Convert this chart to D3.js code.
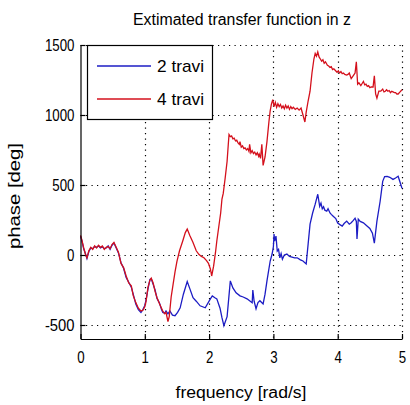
<!DOCTYPE html>
<html>
<head>
<meta charset="utf-8">
<script src="https://cdn.jsdelivr.net/npm/d3@7"></script>
<style>
  body { margin: 0; background: #fff; }
  text { font-family: "Liberation Sans", Arial, sans-serif; fill: #000; }
</style>
</head>
<body>
<div id="chart"></div>
<script>
var seriesNames = ["2 travi", "4 travi"];
var xTicks = [0, 1, 2, 3, 4, 5];
var yTicks = [-500, 0, 500, 1000, 1500];

var freqRed = [0.00,0.02,0.05,0.08,0.10,0.13,0.16,0.19,0.22,0.25,0.28,0.31,0.34,0.37,0.40,0.43,0.46,0.49,0.52,0.55,
  0.59,0.63,0.67,0.71,0.75,0.79,0.82,0.86,0.90,0.94,0.97,1.00,1.02,1.05,1.08,1.10,1.13,1.16,1.19,1.23,
  1.26,1.28,1.31,1.33,1.36,1.38,1.41,1.44,1.47,1.50,1.54,1.59,1.63,1.66,1.70,1.75,1.80,1.84,1.88,1.92,
  1.96,1.99,2.02,2.04,2.07,2.10,2.12,2.15,2.18,2.20,2.22,2.25,2.28,2.30,2.31,2.33,2.35,2.37,2.39,2.41,
  2.43,2.45,2.47,2.48,2.50,2.52,2.54,2.56,2.58,2.60,2.62,2.63,2.65,2.67,2.69,2.71,2.73,2.75,2.77,2.78,
  2.80,2.82,2.84,2.87,2.90,2.93,2.95,2.97,2.99,3.01,3.03,3.05,3.07,3.09,3.11,3.13,3.15,3.17,3.19,3.21,
  3.23,3.25,3.27,3.29,3.31,3.34,3.37,3.40,3.43,3.46,3.49,3.51,3.54,3.57,3.60,3.63,3.65,3.67,3.69,3.71,
  3.73,3.75,3.77,3.79,3.81,3.84,3.86,3.88,3.90,3.92,3.94,3.96,3.99,4.01,4.03,4.05,4.07,4.09,4.11,4.14,
  4.16,4.18,4.21,4.24,4.27,4.29,4.31,4.33,4.36,4.38,4.40,4.42,4.44,4.46,4.48,4.50,4.52,4.55,4.57,4.59,
  4.61,4.64,4.67,4.70,4.72,4.74,4.76,4.78,4.80,4.82,4.84,4.86,4.88,4.90,4.92,4.94,4.97,5.00];
var phaseRed = [140,110,50,0,-20,30,55,40,65,50,70,55,65,40,55,60,45,75,90,60,
  20,-60,-90,-150,-200,-220,-290,-340,-380,-400,-395,-370,-330,-230,-180,-165,-200,-260,-305,-350,
  -380,-400,-420,-410,-475,-440,-300,-210,-120,-45,30,100,160,185,140,90,30,5,-10,-20,
  -40,-60,-100,-150,-80,20,100,200,300,400,440,550,670,800,860,845,850,830,835,815,
  820,800,790,810,770,780,760,765,750,760,740,790,730,745,725,735,715,730,705,720,
  690,790,640,700,810,950,1030,1080,1110,1060,1090,1055,1080,1060,1075,1050,1065,1045,1070,1050,
  1065,1040,1060,1045,1055,1040,1050,1035,1050,1000,950,1020,1100,1170,1300,1400,1440,1420,1450,1415,
  1400,1385,1395,1370,1380,1355,1350,1340,1345,1325,1330,1320,1305,1315,1300,1310,1295,1300,1290,1285,
  1290,1300,1260,1280,1300,1380,1220,1230,1210,1225,1240,1215,1220,1205,1210,1195,1200,1200,1280,1150,
  1120,1170,1170,1185,1165,1170,1180,1170,1175,1160,1170,1165,1160,1160,1150,1150,1165,1180];

var freqBlue = [0.00,0.02,0.05,0.08,0.10,0.13,0.16,0.19,0.22,0.25,0.28,0.31,0.34,0.37,0.40,0.43,0.46,0.49,0.52,0.55,
  0.59,0.63,0.67,0.71,0.75,0.79,0.82,0.86,0.90,0.94,0.97,1.00,1.02,1.05,1.08,1.10,1.13,1.16,1.19,1.23,
  1.26,1.28,1.31,1.33,1.36,1.39,1.43,1.47,1.51,1.55,1.60,1.66,1.70,1.75,1.80,1.86,1.94,2.02,2.05,2.09,
  2.12,2.17,2.20,2.23,2.28,2.33,2.37,2.42,2.48,2.53,2.59,2.64,2.67,2.68,2.70,2.73,2.76,2.79,2.84,2.87,
  2.90,2.95,2.98,3.00,3.01,3.02,3.04,3.06,3.08,3.10,3.12,3.14,3.17,3.21,3.25,3.29,3.33,3.37,3.42,3.46,
  3.51,3.54,3.57,3.61,3.65,3.69,3.72,3.74,3.76,3.78,3.80,3.83,3.85,3.88,3.90,3.93,3.97,4.00,4.04,4.07,
  4.10,4.14,4.18,4.21,4.24,4.27,4.29,4.30,4.32,4.35,4.40,4.46,4.50,4.54,4.57,4.61,4.66,4.70,4.73,4.77,
  4.81,4.86,4.90,4.94,4.97,5.00];
var phaseBlue = [135,105,45,5,-25,25,50,45,60,55,65,50,60,45,50,65,40,70,85,55,
  15,-55,-95,-160,-195,-230,-280,-350,-390,-410,-390,-360,-320,-240,-175,-170,-210,-250,-310,-345,
  -390,-410,-415,-400,-420,-400,-430,-434,-410,-377,-280,-190,-240,-305,-330,-363,-377,-313,-292,-305,
  -313,-380,-448,-505,-440,-185,-235,-270,-292,-300,-313,-330,-341,-250,-330,-384,-340,-327,-350,-280,
  -185,-43,7,60,149,100,135,28,40,-21,10,-30,0,7,-10,-15,-21,-20,-35,-43,
  -64,78,220,300,363,434,348,370,330,345,320,313,330,300,290,277,260,228,215,206,
  225,242,220,230,245,263,240,114,256,240,230,206,190,156,85,242,384,526,560,562,
  555,540,550,562,520,476];

var width = 410, height = 405,
    mLeft = 80.5, mRight = 402, mTop = 45, mBottom = 339;

var svg = d3.select("#chart").append("svg")
  .attr("width", width)
  .attr("height", height);

var x = d3.scaleLinear().domain([0, 5]).range([mLeft, mRight]);
var y = d3.scaleLinear().domain([-600, 1500]).range([mBottom, mTop]);

// dotted grid
svg.append("g").selectAll("line")
  .data(xTicks.filter(function(d){ return d > 0; }))
  .enter().append("line")
  .attr("x1", function(d){ return Math.round(x(d)) + 0.5; })
  .attr("x2", function(d){ return Math.round(x(d)) + 0.5; })
  .attr("y1", mTop).attr("y2", mBottom)
  .attr("stroke", "#000").attr("stroke-width", 1.2)
  .attr("stroke-dasharray", "1.2,4.3");

svg.append("g").selectAll("line")
  .data(yTicks)
  .enter().append("line")
  .attr("x1", mLeft).attr("x2", mRight)
  .attr("y1", function(d){ return Math.round(y(d)) + 0.5; })
  .attr("y2", function(d){ return Math.round(y(d)) + 0.5; })
  .attr("stroke", "#000").attr("stroke-width", 1.2)
  .attr("stroke-dasharray", "1.2,4.3");

var line = d3.line()
  .x(function(d){ return x(d[0]); })
  .y(function(d){ return y(d[1]); });

var blue = d3.zip(freqBlue, phaseBlue),
    red = d3.zip(freqRed, phaseRed);

svg.append("path").datum(blue)
  .attr("d", line).attr("fill", "none")
  .attr("stroke", "#1c1cc4").attr("stroke-width", 1.3);

svg.append("path").datum(red)
  .attr("d", line).attr("fill", "none")
  .attr("stroke", "#d4101c").attr("stroke-width", 1.3);

// axes, ticks pointing inward
var fmt = function(d){ return String(d); };
var xAxis = svg.append("g")
  .attr("transform", "translate(0," + mBottom + ")")
  .call(d3.axisBottom(x).tickValues(xTicks).tickFormat(fmt)
    .tickSizeInner(-5).tickSizeOuter(0).tickPadding(12));
var yAxis = svg.append("g")
  .attr("transform", "translate(" + mLeft + ",0)")
  .call(d3.axisLeft(y).tickValues(yTicks).tickFormat(fmt)
    .tickSizeInner(-5).tickSizeOuter(0).tickPadding(6));

[xAxis, yAxis].forEach(function(a){
  a.select(".domain").attr("stroke", "#000").attr("stroke-width", 1.2);
  a.selectAll(".tick line").attr("stroke", "#000").attr("stroke-width", 1.2);
  a.selectAll("text")
    .attr("font-size", 17)
    .attr("font-family", "Liberation Sans, Arial, sans-serif")
    .attr("textLength", function(d){ return String(d).length * 7.4; })
    .attr("lengthAdjust", "spacingAndGlyphs");
});

// titles
svg.append("text")
  .attr("x", 242).attr("y", 25)
  .attr("text-anchor", "middle").attr("font-size", 16)
  .attr("textLength", 218).attr("lengthAdjust", "spacingAndGlyphs")
  .text("Extimated transfer function in z");

svg.append("text")
  .attr("x", 241).attr("y", 398)
  .attr("text-anchor", "middle").attr("font-size", 16)
  .attr("textLength", 131).attr("lengthAdjust", "spacingAndGlyphs")
  .text("frequency [rad/s]");

svg.append("text")
  .attr("transform", "translate(20,196) rotate(-90)")
  .attr("text-anchor", "middle").attr("font-size", 16)
  .attr("textLength", 106).attr("lengthAdjust", "spacingAndGlyphs")
  .text("phase [deg]");

// legend
var legend = svg.append("g");
legend.append("rect")
  .attr("x", 87.5).attr("y", 45.5).attr("width", 125).attr("height", 74)
  .attr("fill", "#fff").attr("stroke", "#000").attr("stroke-width", 1.2);

var legColors = ["#1c1cc4", "#d4101c"];
var item = legend.selectAll("g.item")
  .data(seriesNames)
  .enter().append("g")
  .attr("class", "item")
  .attr("transform", function(d, i){ return "translate(0," + (66 + i * 33) + ")"; });

item.append("line")
  .attr("x1", 97).attr("x2", 151).attr("y1", 0).attr("y2", 0)
  .attr("stroke", function(d, i){ return legColors[i]; })
  .attr("stroke-width", 1.3);

item.append("text")
  .attr("x", 157).attr("y", 6)
  .attr("font-size", 17)
  .attr("textLength", 47).attr("lengthAdjust", "spacingAndGlyphs")
  .text(function(d){ return d; });
</script>
</body>
</html>
